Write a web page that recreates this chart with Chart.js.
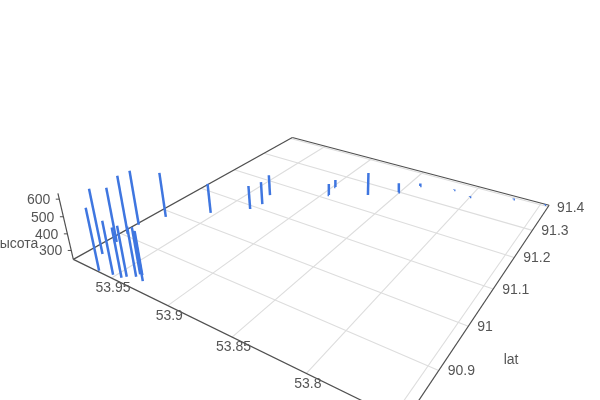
<!DOCTYPE html>
<html><head><meta charset="utf-8">
<style>html,body{margin:0;padding:0;background:#fff}canvas{display:block}</style>
<script src="https://cdn.jsdelivr.net/npm/chart.js@4"></script>
</head><body><canvas id="c" width="600" height="400"></canvas>
<script>
// ---- data ----
const lonValues = [53.963,53.977,53.952,53.981,53.945,53.983,53.943,53.986,53.938,53.938,53.931,53.936,53.978,53.954,53.933,53.930,53.934,53.895,53.898,53.869,53.851,53.841,53.815,53.800,53.770,53.747];
const latValues = [90.807,90.841,90.812,90.878,90.814,90.906,90.820,90.937,90.828,90.836,90.826,90.836,90.983,91.038,91.089,91.116,91.152,91.215,91.250,91.256,91.299,91.346,91.367,91.357,91.394,91.405];
const heightValues = [609,632,557,576,535,604,540,587,535,519,533,501,530,437,399,394,383,322,295,397,308,263,249,249,249,248];
const lonTicks = [53.95,53.9,53.85,53.8,53.75];
const lonTickLabels = ["53.95","53.9","53.85","53.8",""];
const latTicks = [90.9,91,91.1,91.2,91.3,91.4];
const latTickLabels = ["90.9","91","91.1","91.2","91.3","91.4"];
const heightTicks = [300,400,500,600];
const lonRange = [53.744,53.988];
const latRange = [90.805,91.407];
const heightRange = [245,632];
const heightTitle = "высота";
const latTitle = "lat";

// ---- camera: four floor grid crossings, and the vertical vanishing point ----
function solve(A,b){const n=b.length;A=A.map((r,i)=>[...r,b[i]]);for(let i=0;i<n;i++){let m=i;for(let k=i;k<n;k++)if(Math.abs(A[k][i])>Math.abs(A[m][i]))m=k;[A[i],A[m]]=[A[m],A[i]];for(let k=0;k<n;k++)if(k!=i){const f=A[k][i]/A[i][i];for(let j=i;j<=n;j++)A[k][j]-=f*A[i][j];}}return A.map((r,i)=>r[n]/r[i]);}
const cam=[[53.95,91.3,298,163],[53.75,91.3,524,228],[53.75,90.9,428,366],[53.85,90.9,275,300]];
const M=[],B=[];for(const[a,b,u,v]of cam){const x=a-53.85,y=b-91.1;M.push([x,y,1,0,0,0,-u*x,-u*y]);B.push(u);M.push([0,0,0,x,y,1,-v*x,-v*y]);B.push(v);}
const h=solve(M,B);
const V=[340,1400],C=-1.336e-4;
function project(lon,lat,z){
  const x=lon-53.85,y=lat-91.1;
  const w=h[6]*x+h[7]*y+1;
  const px=(h[0]*x+h[1]*y+h[2])/w,py=(h[3]*x+h[4]*y+h[5])/w;
  const d=(z-heightRange[0])*C,t=w/(w+d);
  return {x:V[0]+(px-V[0])*t,y:V[1]+(py-V[1])*t};
}
const base=heightRange[0];
const seg=(p,q,color,width)=>({data:[p,q],showLine:true,pointRadius:0,borderColor:color,borderWidth:width,borderCapStyle:'butt',fill:false,tension:0});

const sticks=lonValues.map((lon,i)=>seg(project(lon,latValues[i],base),project(lon,latValues[i],heightValues[i]),'#3f76e0',2.5));
const [x0,x1]=lonRange,[y0,y1]=latRange;
const INK='#505050',GRID='#dddddd';
const edges=[
  seg(project(x1,y0,base),project(x1,y1,base),INK,1.2),
  seg(project(x1,y1,base),project(x0,y1,base),INK,1.2),
  seg(project(x0,y1,base),project(x0,y0,base),INK,1.2),
  seg(project(x0,y0,base),project(x1,y0,base),INK,1.2),
  seg(project(x1,y0,base),project(x1,y0,heightRange[1]),INK,1.2)
];
const zTickMarks=heightTicks.map(z=>{const p=project(x1,y0,z);return seg(p,{x:p.x-3.5,y:p.y},INK,1);});
const grid=[
  ...lonTicks.map(t=>seg(project(t,y0,base),project(t,y1,base),GRID,1.1)),
  ...latTicks.map(t=>seg(project(x0,t,base),project(x1,t,base),GRID,1.1))
];

const textPlugin={id:'axisText',afterDraw(chart){
  const {ctx,scales:{x,y}}=chart;
  const put=(s,p,dx,dy,al)=>{ctx.textAlign=al;ctx.fillText(s,x.getPixelForValue(p.x)+dx,y.getPixelForValue(p.y)+dy);};
  ctx.save();ctx.font='14px "Liberation Sans"';ctx.fillStyle='#555555';ctx.textBaseline='middle';
  lonTicks.forEach((t,i)=>{if(lonTickLabels[i])put(lonTickLabels[i],project(t,y0,base),1.5,10.5,'center');});
  latTicks.forEach((t,i)=>put(latTickLabels[i],project(x0,t,base),9,1,'left'));
  heightTicks.forEach(z=>put(String(z),project(x1,y0,z),-9,1,'right'));
  put(heightTitle,project(x1,y0,400),-29,10,'right');
  put(latTitle,project(x0,90.9,base),65,-10,'left');
  ctx.restore();
}};

new Chart(document.getElementById('c'),{
  type:'scatter',
  data:{datasets:[...sticks,...edges,...zTickMarks,...grid]},
  options:{responsive:false,animation:false,events:[],
    layout:{padding:0},
    plugins:{legend:{display:false},tooltip:{enabled:false},title:{display:false}},
    scales:{x:{type:'linear',min:0,max:600,display:false},y:{type:'linear',min:0,max:400,reverse:true,display:false}}
  },
  plugins:[textPlugin]
});
</script></body></html>
